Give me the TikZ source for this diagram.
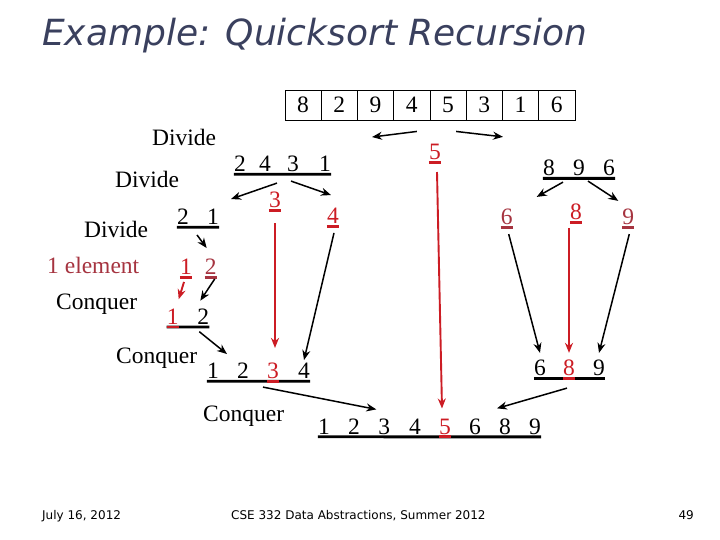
\documentclass[tikz,border=0pt]{standalone}
\usepackage{fontspec}
\setmainfont{Liberation Serif}
\newfontfamily\slidefont{DejaVu Sans}
\usetikzlibrary{arrows.meta}

\definecolor{qred}{RGB}{204,28,36}
\definecolor{qmaroon}{RGB}{166,52,64}
\definecolor{titleblue}{RGB}{58,64,94}

\tikzset{
  dig/.style={inner sep=0pt, font=\fontsize{23.5}{28}\selectfont},
  lbl/.style={inner sep=0pt, anchor=base west, font=\fontsize{23.5}{28}\selectfont},
  cell/.style={draw, line width=0.9pt, minimum width=36.25pt, minimum height=30pt,
    inner sep=0pt, font=\fontsize{23.5}{28}\selectfont},
  uline/.style={line width=2.9pt},
  arr/.style={line width=1.5pt, -{Stealth[length=10pt,width=8pt]}},
  redarr/.style={arr, qred, line width=1.9pt},
  foot/.style={inner sep=0pt, font=\slidefont\fontsize{12}{14}\selectfont},
}
\newcommand\underrow[3][black]{\draw[uline,#1] ([yshift=-2.3pt]#2.south west) -- ([yshift=-2.3pt]#3.south east);}

\begin{document}
\begin{tikzpicture}[x=1pt,y=-1pt]
\fill[white] (0,0) rectangle (720,540);
\useasboundingbox (0,0) rectangle (720,540);

% title and footer
\node[anchor=base west, inner sep=0pt, text=titleblue,
  font=\slidefont\itshape\fontsize{36}{40}\selectfont] (title) at (42,46) {Example: Quicksort Recursion};
\node[foot, anchor=base west] (date) at (42,519) {July 16, 2012};
\node[foot, anchor=base west] (course) at (231,519) {CSE 332 Data Abstractions, Summer 2012};
\node[foot, anchor=base east] (page) at (694,519) {49};

% the array
\foreach \d [count=\i] in {8,2,9,4,5,3,1,6}
  \node[cell] (c\i) at ({303.1+36.25*(\i-1)},105) {\d};

% step labels
\node[lbl] (div1) at (152,146) {Divide};
\node[lbl] (div2) at (115,188) {Divide};
\node[lbl] (div3) at (84,237) {Divide};
\node[lbl, text=qmaroon] (single) at (47,273) {1 element};
\node[lbl] (conq1) at (56,309) {Conquer};
\node[lbl] (conq2) at (116,363) {Conquer};
\node[lbl] (conq3) at (203,421.5) {Conquer};

% divide rows
\foreach \d/\x [count=\i] in {2/240,4/265,3/293,1/325}
  \node[dig] (a\i) at (\x,164) {\d};
\underrow{a1}{a4}
\foreach \d/\x [count=\i] in {8/549,9/579,6/609}
  \node[dig] (b\i) at (\x,168) {\d};
\underrow{b1}{b3}
\node[dig, text=qred] (p5) at (435,152) {5};
\underrow[qred]{p5}{p5}

\node[dig, text=qred] (p3) at (275,200) {3};
\underrow[qred]{p3}{p3}
\node[dig, text=qred] (p4) at (333,216) {4};
\underrow[qred]{p4}{p4}
\node[dig, text=qmaroon] (p6) at (506.7,217) {6};
\underrow[qmaroon]{p6}{p6}
\node[dig, text=qred] (p8) at (576,212) {8};
\underrow[qred]{p8}{p8}
\node[dig, text=qmaroon] (p9) at (628.3,217) {9};
\underrow[qmaroon]{p9}{p9}

\foreach \d/\x [count=\i] in {2/183,1/213}
  \node[dig] (d\i) at (\x,217) {\d};
\underrow{d1}{d2}

\node[dig, text=qred] (e1) at (186,267) {1};
\underrow[qred]{e1}{e1}
\node[dig, text=qmaroon] (e2) at (210.7,267) {2};
\underrow[qmaroon]{e2}{e2}

% conquer rows
\node[dig, text=qred] (f1) at (172.7,316.7) {1};
\node[dig] (f2) at (203.3,316.7) {2};
\underrow{f1}{f2}
\underrow[qred]{f1}{f1}

\foreach \d/\x/\c [count=\i] in {1/213/black,2/243/black,3/273/qred,4/304/black}
  \node[dig, text=\c] (g\i) at (\x,371) {\d};
\underrow{g1}{g4}
\underrow[qred]{g3}{g3}

\foreach \d/\x/\c [count=\i] in {6/540/black,8/569/qred,9/599/black}
  \node[dig, text=\c] (h\i) at (\x,368) {\d};
\underrow{h1}{h3}
\underrow[qred]{h2}{h2}

\foreach \d/\x/\c [count=\i] in {1/324/black,2/354/black,3/384.3/black,4/415/black,
    5/445/qred,6/475/black,8/505/black,9/535/black}
  \node[dig, text=\c] (k\i) at (\x,426.5) {\d};
\underrow{k1}{k8}
\underrow[qred]{k5}{k5}

% arrows
\draw[arr] ([shift={(5,11)}]c4.south) -- ([shift={(47,-19)}]a4.north);
\draw[arr] ([shift={(8,11)}]c5.south) -- ([shift={(-46,-23)}]b1.north);
\draw[arr] ([shift={(-16,11)}]a3.south) -- ([shift={(18,-10)}]d2.north);
\draw[arr] ([shift={(-2,9)}]a3.south) -- ([shift={(-2,-13)}]p4.north);
\draw[arr] ([shift={(14,6)}]b1.south) -- ([shift={(30,-12)}]p6.north);
\draw[arr] ([shift={(9,5)}]b2.south) -- ([shift={(-10,-8)}]p9.north);
\draw[arr] ([shift={(14,10)}]d1.south) -- ([shift={(-4,-11)}]e2.north);
\draw[redarr] ([shift={(-2,7)}]e1.south) -- ([shift={(6,-9.5)}]f1.north);
\draw[arr] ([shift={(4,4)}]e2.south) -- ([shift={(-3,-8)}]f2.north);
\draw[arr] ([shift={(-4,7)}]f2.south) -- ([shift={(14,-9)}]g1.north);
\draw[redarr] ([shift={(0,15)}]p3.south) -- ([shift={(2,-15)}]g3.north);
\draw[arr] ([shift={(1,9)}]p4.south) -- ([shift={(0,-3)}]g4.north);
\draw[arr] ([shift={(2,9)}]p6.south) -- ([shift={(0,-7)}]h1.north);
\draw[redarr] ([shift={(-7,8)}]p8.south) -- ([shift={(0,-7)}]h2.north);
\draw[arr] ([shift={(1,9)}]p9.south) -- ([shift={(0,-7)}]h3.north);
\draw[arr] ([shift={(-10,8)}]g3.south) -- ([shift={(-8,-9)}]k3.north);
\draw[arr] ([shift={(-2,12)}]h2.south) -- ([shift={(-8,-10)}]k7.north);
\draw[redarr] ([shift={(2,12)}]p5.south) -- ([shift={(-3,-10)}]k5.north);
\end{tikzpicture}
\end{document}
